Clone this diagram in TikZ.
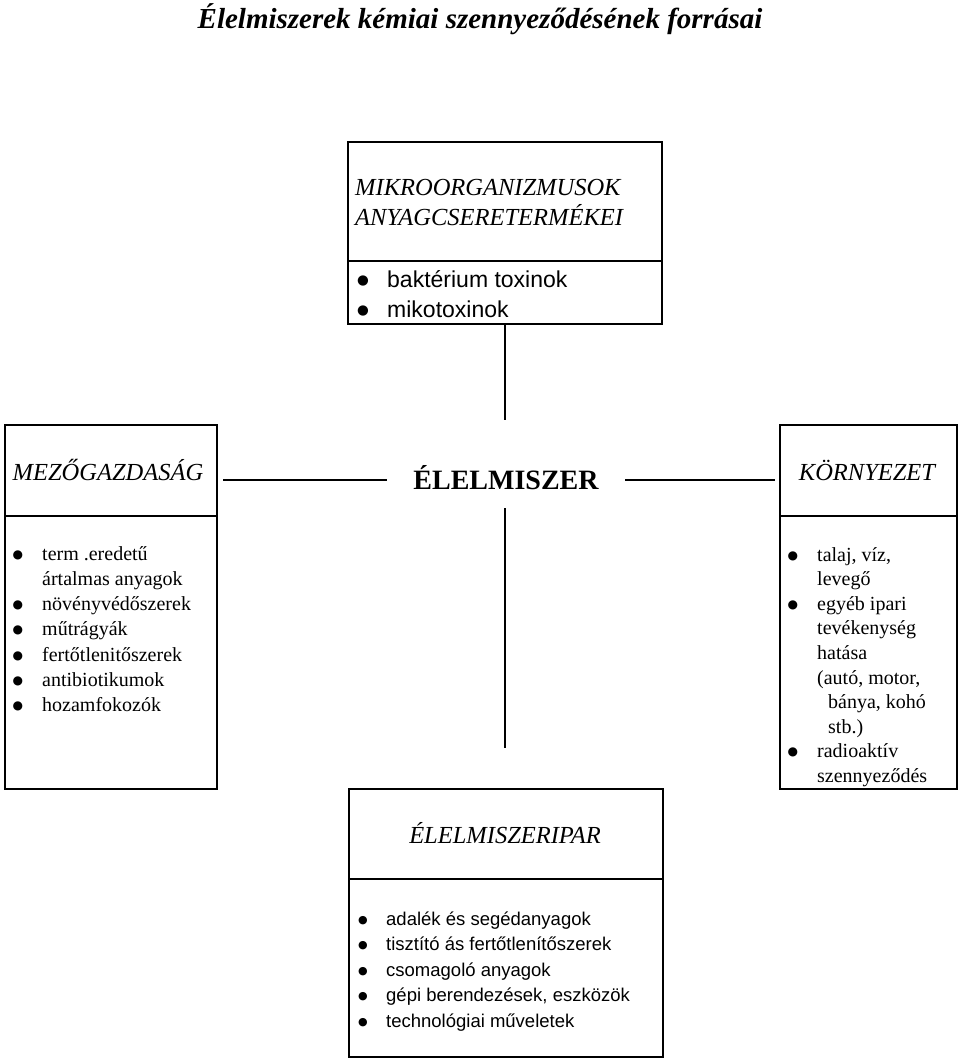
\documentclass[tikz,border=0pt]{standalone}
\usepackage{fontspec}
\setmainfont{Liberation Serif}
\setsansfont{Liberation Sans}
\newfontfamily\bulfont{DejaVu Sans}
% #1 width of bullet column, #2 bullet font size, #3 raise
\newcommand{\bulw}[3]{\makebox[#1][l]{\raisebox{#3}{\bulfont\fontsize{#2}{#2}\selectfont ●}}}
\begin{document}
\begin{tikzpicture}[x=1pt,y=-1pt,
  box/.style={draw,line width=2pt,inner sep=0pt},
  divider/.style={line width=1.3pt},
  conn/.style={line width=1.5pt},
  head/.style={font=\itshape\fontsize{24.5}{30}\selectfont,inner sep=0pt,anchor=base},
  lst/.style={inner sep=0pt,anchor=base west}]
\useasboundingbox (0,0) rectangle (960,1063);

% title
\node[inner sep=0pt,anchor=base,font=\bfseries\itshape\fontsize{29}{34}\selectfont] (title) at (480,28) {Élelmiszerek kémiai szennyeződésének forrásai};

% boxes
\node[box,minimum width=314pt,minimum height=182pt] (mik) at (505,233) {};
\node[box,minimum width=212pt,minimum height=364pt] (mez) at (111,607) {};
\node[box,minimum width=177pt,minimum height=364pt] (kor) at (868.5,607) {};
\node[box,minimum width=314pt,minimum height=268pt] (ipar) at (506,923) {};

\draw[divider] (mik.west |- 0,261) -- (mik.east |- 0,261);
\draw[divider] (mez.west |- 0,516) -- (mez.east |- 0,516);
\draw[divider] (kor.west |- 0,516) -- (kor.east |- 0,516);
\draw[divider] (ipar.west |- 0,879) -- (ipar.east |- 0,879);

% headings
\node[head,anchor=base west] (mikh1) at (355,195) {MIKROORGANIZMUSOK};
\node[head,anchor=base west] (mikh2) at (355,225) {ANYAGCSERETERMÉKEI};
\node[head] (mezh) at (108,480) {MEZŐGAZDASÁG};
\node[head] (korh) at (867,480) {KÖRNYEZET};
\node[head] (iparh) at (505,843) {ÉLELMISZERIPAR};

% centre
\node[inner sep=0pt,anchor=base,font=\bfseries\fontsize{28}{32}\selectfont] (elm) at (506,489) {ÉLELMISZER};

% connectors
\coordinate (t1) at (505,420);
\coordinate (b0) at (505,508);
\coordinate (b1) at (505,748);
\coordinate (l0) at (223,480);
\coordinate (l1) at (387,480);
\coordinate (r0) at (625,480);
\coordinate (r1) at (775,480);
\draw[conn] (mik.south) -- (t1);
\draw[conn] (b0) -- (b1);
\draw[conn] (l0) -- (l1);
\draw[conn] (r0) -- (r1);

% lists
\node[lst,font=\sffamily\fontsize{23}{30}\selectfont] (mikl) at (356.8,287) {%
\begin{tabular}[t]{@{}l@{}l@{}}
\bulw{30.2pt}{13.5}{2.5pt} & baktérium toxinok\\
\bulw{30.2pt}{13.5}{2.5pt} & mikotoxinok
\end{tabular}};

\node[lst,font=\fontsize{20}{25.3}\selectfont] (mezl) at (12.4,560) {%
\begin{tabular}[t]{@{}l@{}l@{}}
\bulw{29.6pt}{12}{2pt} & term .eredetű\\
 & ártalmas anyagok\\
\bulw{29.6pt}{12}{2pt} & növényvédőszerek\\
\bulw{29.6pt}{12}{2pt} & műtrágyák\\
\bulw{29.6pt}{12}{2pt} & fertőtlenitőszerek\\
\bulw{29.6pt}{12}{2pt} & antibiotikumok\\
\bulw{29.6pt}{12}{2pt} & hozamfokozók
\end{tabular}};

\node[lst,font=\fontsize{20}{24.6}\selectfont] (korl) at (787.4,561) {%
\begin{tabular}[t]{@{}l@{}l@{}}
\bulw{29.6pt}{12}{2pt} & talaj, víz,\\
 & levegő\\
\bulw{29.6pt}{12}{2pt} & egyéb ipari\\
 & tevékenység\\
 & hatása\\
 & (autó, motor,\\
 & \hspace{11pt}bánya, kohó\\
 & \hspace{11pt}stb.)\\
\bulw{29.6pt}{12}{2pt} & radioaktív\\
 & szennyeződés
\end{tabular}};

\node[lst,font=\sffamily\fontsize{18.5}{25.5}\selectfont] (iparl) at (357.8,925) {%
\begin{tabular}[t]{@{}l@{}l@{}}
\bulw{28.2pt}{11}{1.9pt} & adalék és segédanyagok\\
\bulw{28.2pt}{11}{1.9pt} & tisztító ás fertőtlenítőszerek\\
\bulw{28.2pt}{11}{1.9pt} & csomagoló anyagok\\
\bulw{28.2pt}{11}{1.9pt} & gépi berendezések, eszközök\\
\bulw{28.2pt}{11}{1.9pt} & technológiai műveletek
\end{tabular}};
\end{tikzpicture}
\end{document}
